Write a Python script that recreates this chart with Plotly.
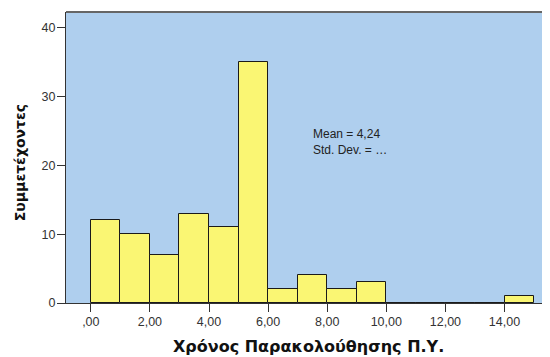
import plotly.graph_objects as go

bin_starts = [0, 1, 2, 3, 4, 5, 6, 7, 8, 9, 10, 11, 12, 13, 14]
counts = [12, 10, 7, 13, 11, 35, 2, 4, 2, 3, 0, 0, 0, 0, 1]
x_tick_vals = [0, 2, 4, 6, 8, 10, 12, 14]
x_tick_text = [",00", "2,00", "4,00", "6,00", "8,00", "10,00", "12,00", "14,00"]
y_tick_vals = [0, 10, 20, 30, 40]
stats_text = "Mean = 4,24<br>Std. Dev. = \u2026"
x_title = "Χρόνος Παρακολούθησης Π.Υ."
y_title = "Συμμετέχοντες"

centers = [s + 0.5 for s in bin_starts]

# page body has an 8px margin, so the figure is sized/offset to compensate
OFF = 8
W, H = 550 - OFF, 357 - OFF
ML, MR, MT, MB = 66 - OFF, 0, 12 - OFF, 53.5

fig = go.Figure()
fig.add_trace(go.Bar(
    x=centers, y=counts, width=1,
    marker=dict(color="#FAF673", line=dict(color="#1a1a1a", width=1)),
    hoverinfo="x+y",
))

fig.add_annotation(
    x=7.45, y=23.4, xref="x", yref="y", text=stats_text, showarrow=False,
    xanchor="left", yanchor="middle", align="left",
    font=dict(family="Liberation Sans, Arial", size=12, color="#222222"),
)

PH = H - MT - MB
PW = W - ML - MR
# x axis title
fig.add_annotation(
    x=0.5, xref="paper", y=-((347 - OFF) - (H - MB)) / PH, yref="paper",
    text=x_title, showarrow=False, xanchor="center", yanchor="middle",
    font=dict(family="DejaVu Sans", size=16, color="#111111", weight="bold"),
)
# y axis title
fig.add_annotation(
    x=-(ML - (19.5 - OFF)) / PW, xref="paper",
    y=((H - MB) - (163 - OFF)) / PH, yref="paper",
    text=y_title, showarrow=False, textangle=-90,
    xanchor="center", yanchor="middle",
    font=dict(family="DejaVu Sans", size=14, color="#111111", weight="bold"),
)

fig.update_layout(
    width=W, height=H,
    margin=dict(l=ML, r=MR, t=MT, b=MB, autoexpand=False),
    paper_bgcolor="white", plot_bgcolor="#AFCFEE",
    showlegend=False, bargap=0,
    font=dict(family="Liberation Sans, Arial", size=12.5, color="#333333"),
)
fig.update_xaxes(
    range=[-0.84, 15.54], tickvals=x_tick_vals, ticktext=x_tick_text,
    ticks="outside", ticklen=8, tickwidth=1, tickcolor="#333333",
    ticklabelstandoff=-1,
    showline=True, linecolor="#333333", linewidth=1, mirror=False,
    showgrid=False, zeroline=False, automargin=False,
)
fig.update_yaxes(
    range=[0, 42.3], tickvals=y_tick_vals,
    ticks="outside", ticklen=8, tickwidth=1, tickcolor="#333333",
    ticklabelstandoff=-1,
    showline=True, linecolor="#333333", linewidth=1,
    showgrid=False, zeroline=False, automargin=False,
)
# top border line of plot area
fig.add_shape(type="line", xref="paper", yref="paper", x0=0, x1=1, y0=1, y1=1,
              line=dict(color="#666666", width=2))

fig.write_html("out.html")
